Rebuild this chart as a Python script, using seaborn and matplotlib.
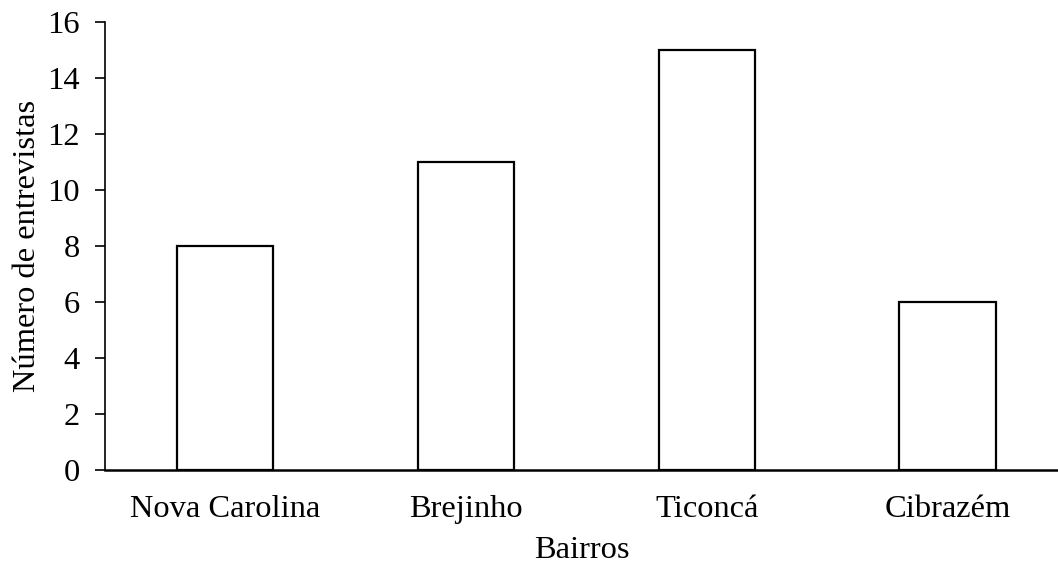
import matplotlib
matplotlib.use("Agg")
import matplotlib.pyplot as plt
import seaborn as sns
import pandas as pd

bairros = ["Nova Carolina", "Brejinho", "Ticoncá", "Cibrazém"]
entrevistas = [8, 11, 15, 6]
y_ticks = [0, 2, 4, 6, 8, 10, 12, 14, 16]

sns.set_style("white")
plt.rcParams['font.family'] = ['Liberation Serif', 'DejaVu Serif']
plt.rcParams['text.color'] = 'black'
plt.rcParams['axes.labelcolor'] = 'black'
plt.rcParams['xtick.color'] = 'black'
plt.rcParams['ytick.color'] = 'black'

df = pd.DataFrame({"Bairros": bairros, "Número de entrevistas": entrevistas})

fig = plt.figure(figsize=(10.58, 5.65), dpi=100)
ax = fig.add_axes([105 / 1058, (565 - 470) / 565, (1058 - 105) / 1058, (470 - 22) / 565])

sns.barplot(data=df, x="Bairros", y="Número de entrevistas", ax=ax,
            color="white", edgecolor="black", linewidth=1.6, width=0.4)

fs = 23.4
ax.set_ylim(0, 16)
ax.set_xlim(-0.5, -0.5 + (1058 - 105) / 240.7)
ax.set_yticks(y_ticks)
ax.set_yticklabels([str(v) for v in y_ticks], fontsize=fs)
ax.tick_params(axis="y", direction="out", length=7, width=1.2, pad=11, left=True, colors="black")
ax.tick_params(axis="x", length=0, pad=18, labelsize=fs, colors="black")
for lab in ax.get_xticklabels():
    lab.set_fontsize(fs)

ax.set_xlabel("Bairros", fontsize=fs, labelpad=9, color="black")
ax.set_ylabel("Número de entrevistas", fontsize=fs, labelpad=4, color="black")

for s in ["top", "right"]:
    ax.spines[s].set_visible(False)
ax.spines["left"].set_linewidth(1.2)
ax.spines["left"].set_color("black")
ax.spines["bottom"].set_linewidth(1.8)
ax.spines["bottom"].set_color("black")
ax.spines["left"].set_zorder(5)
ax.spines["bottom"].set_zorder(5)

fig.savefig("out.png", dpi=100)
